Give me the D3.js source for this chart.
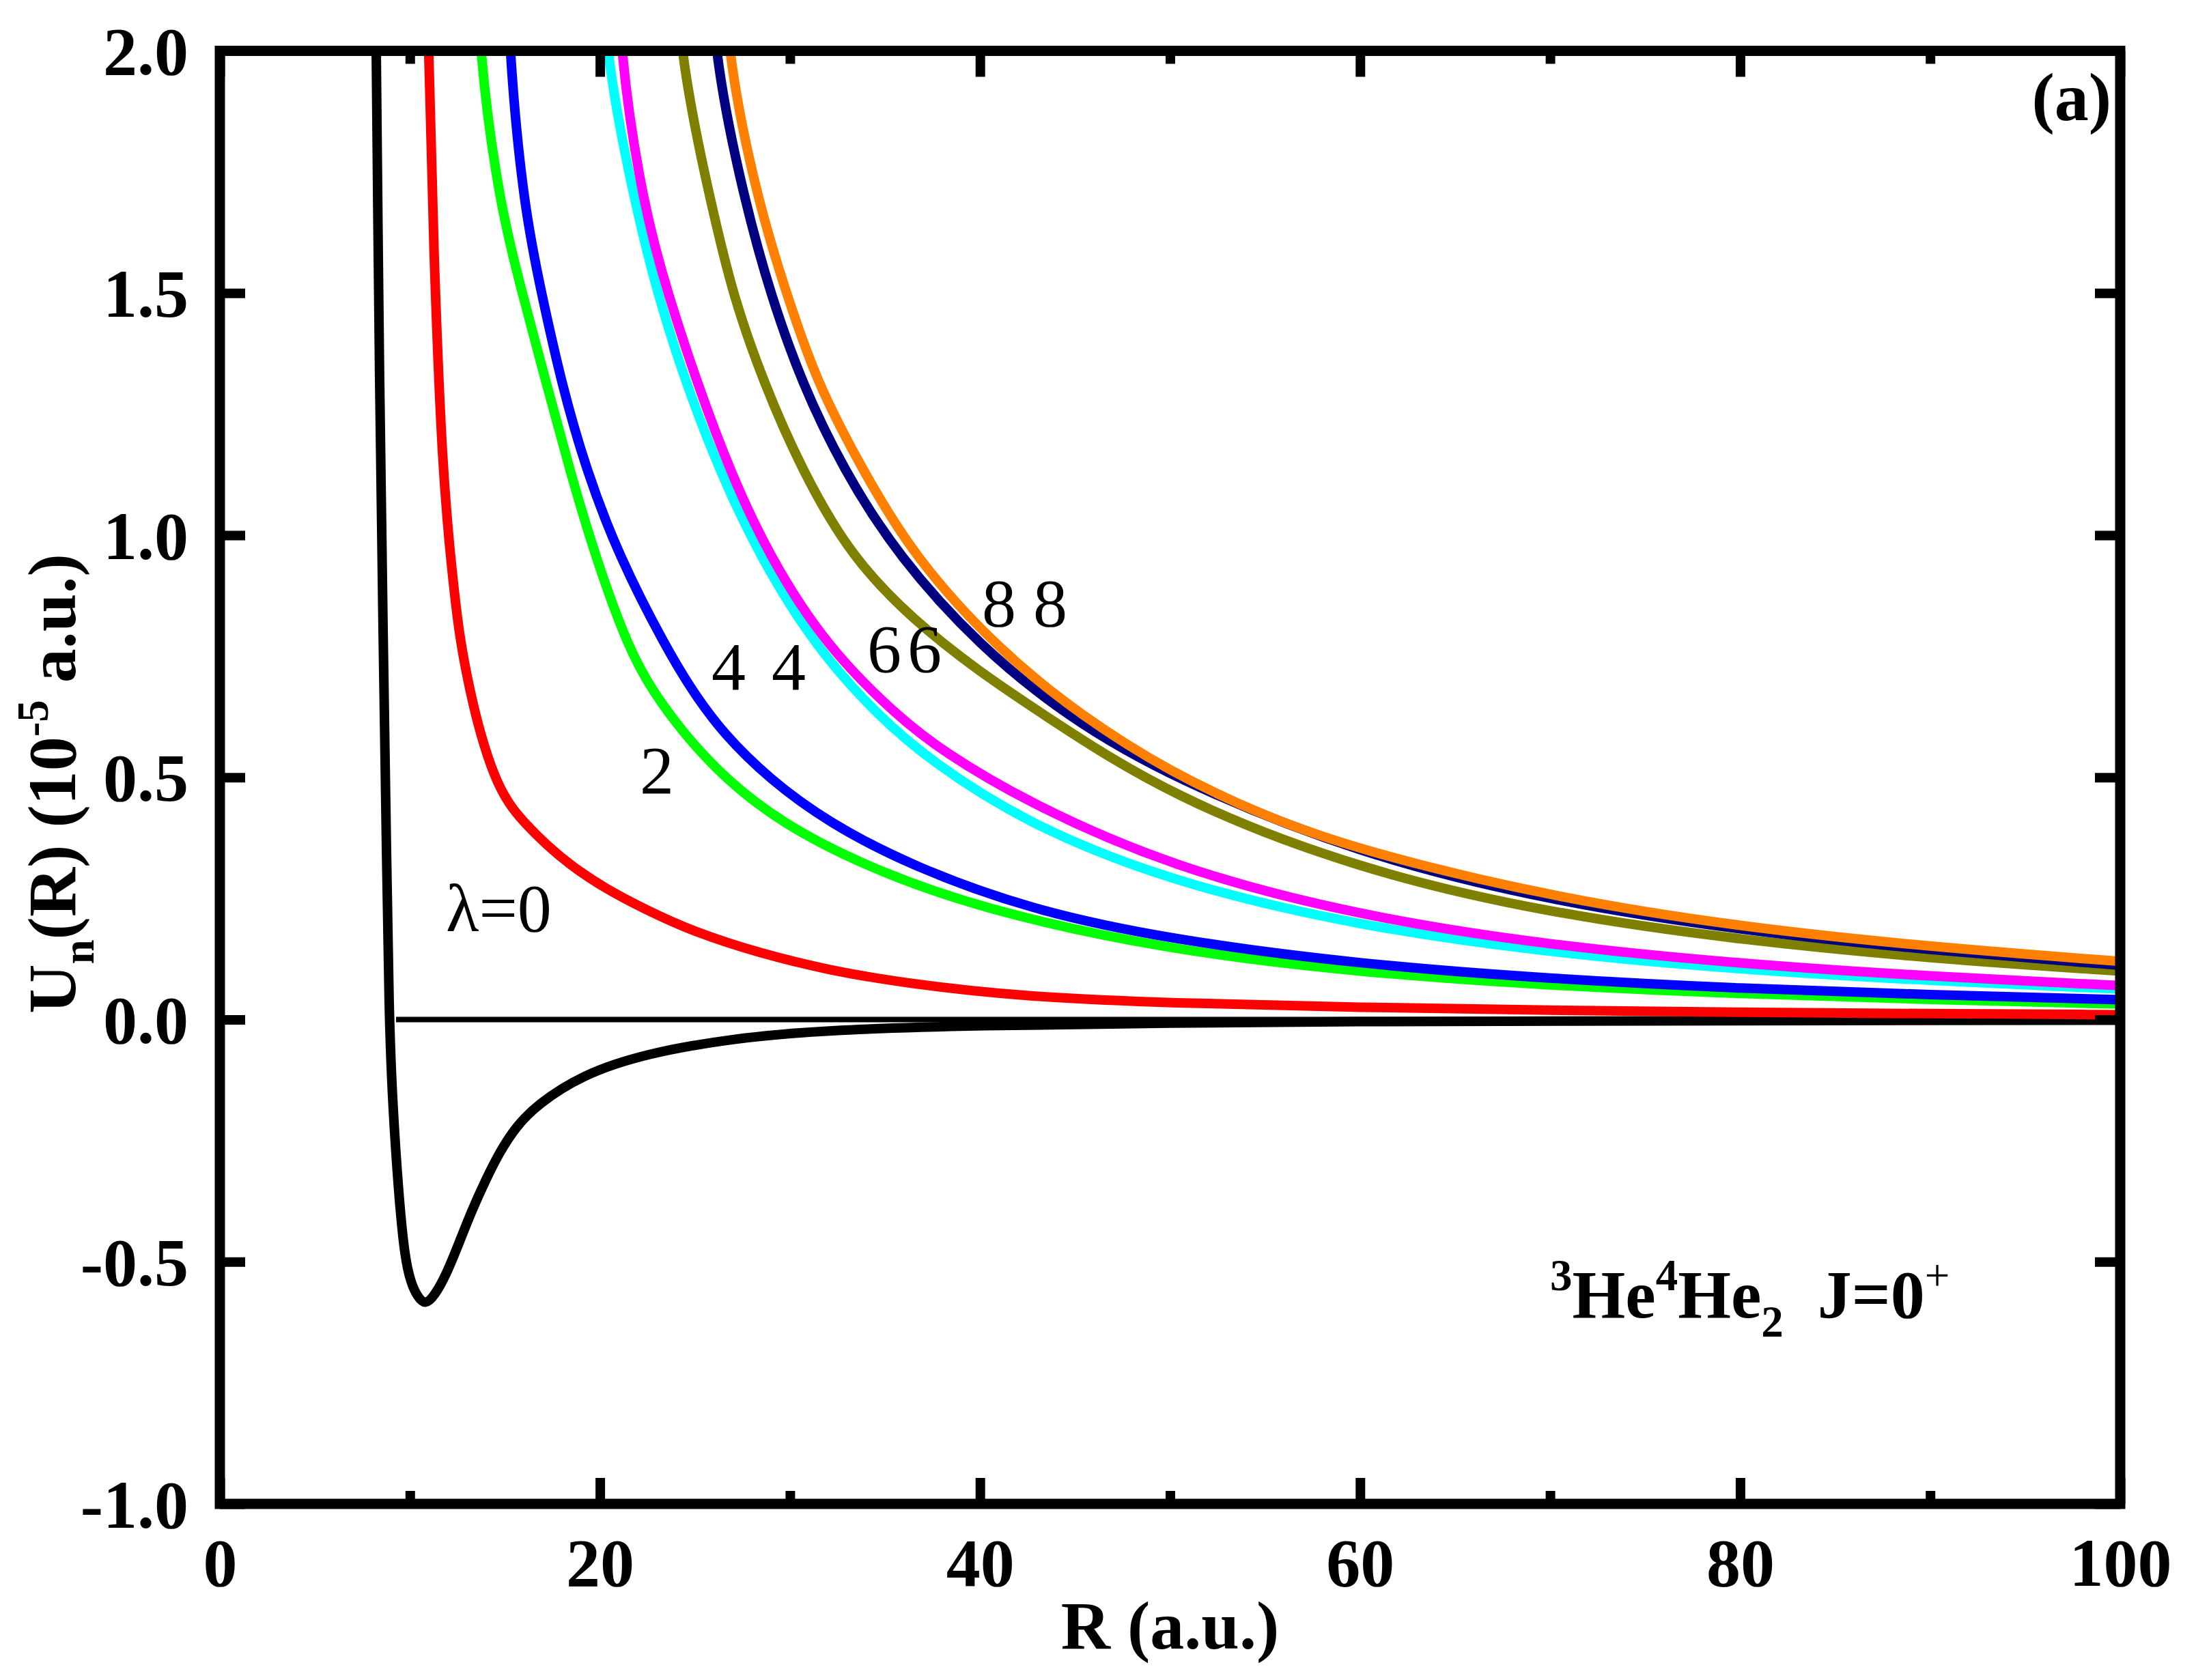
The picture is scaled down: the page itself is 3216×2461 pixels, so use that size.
<!DOCTYPE html>
<html>
<head>
<meta charset="utf-8">
<script src="https://cdn.jsdelivr.net/npm/d3@7"></script>
<style>
  html, body { margin: 0; padding: 0; background: #fff; }
  svg { display: block; }
  text { font-family: "Liberation Serif", "Times New Roman", serif; fill: #000; }
</style>
</head>
<body>
<div id="chart"></div>
<script>
// canvas and frame (px)
var W = 3216, H = 2461;
var LEFT = 322, RIGHT = 3105, TOP = 74.5, BOTTOM = 2203;
var FONT = 100;
var LINE_W = 14;

// ticks
var xMajor = [0, 20, 40, 60, 80, 100];
var xMinor = [10, 30, 50, 70, 90];
var yMajor = [-1.0, -0.5, 0.0, 0.5, 1.0, 1.5, 2.0];

// curves: R (a.u.) and U (1e-5 a.u.)
var R_black = [8.1, 8.23, 8.4, 8.6, 8.75, 8.9, 9.1, 9.4, 9.72, 10.06, 10.4, 10.8, 11.3, 11.9, 12.6, 13.26, 14.0, 14.7, 15.6, 16.7, 19.0, 22.4, 27.0, 31.6, 40, 50, 60, 70, 85, 100];
var U_black = [2.5, 2.0, 1.3, 0.77, 0.4, 0.0, -0.18, -0.357, -0.49, -0.545, -0.572, -0.59, -0.57, -0.528, -0.46, -0.394, -0.33, -0.275, -0.22, -0.176, -0.115, -0.07, -0.039, -0.022, -0.012, -0.007, -0.004, -0.003, -0.002, -0.0015];

var R_red = [10.85, 10.96, 11.25, 11.7, 12.2, 12.6, 13.15, 13.7, 14.45, 15.2, 16.0, 17.2, 18.5, 20.3, 22.4, 25.0, 28.4, 32.0, 36.2, 42.3, 50, 60, 70, 80, 90, 100];
var U_red = [2.4, 2.0, 1.585, 1.135, 0.93, 0.79, 0.68, 0.59, 0.50, 0.445, 0.407, 0.36, 0.317, 0.27, 0.227, 0.18, 0.137, 0.102, 0.074, 0.047, 0.034, 0.025, 0.019, 0.015, 0.012, 0.010];

var R_green = [13.4, 13.6, 14.75, 15.95, 17.16, 18.4, 19.75, 21.5, 22.8, 24.5, 26.6, 29.5, 33.9, 40.1, 50, 60, 70, 80, 90, 100];
var U_green = [2.3, 2.0, 1.675, 1.495, 1.316, 1.136, 0.956, 0.766, 0.676, 0.586, 0.497, 0.407, 0.317, 0.227, 0.143, 0.097, 0.070, 0.053, 0.041, 0.032];

var R_blue = [15.0, 15.2, 16.0, 16.95, 17.96, 19.26, 21.0, 23.5, 24.9, 26.5, 28.9, 32.0, 36.4, 42.6, 50, 60, 70, 80, 90, 100];
var U_blue = [2.3, 2.0, 1.675, 1.495, 1.316, 1.136, 0.956, 0.766, 0.676, 0.59, 0.497, 0.407, 0.317, 0.227, 0.165, 0.114, 0.084, 0.064, 0.051, 0.041];

var R_cyan = [20.0, 20.2, 21.9, 23.05, 24.5, 26.26, 28.4, 31.4, 34.7, 37.3, 42.3, 50, 60, 70, 80, 90, 100];
var U_cyan = [2.3, 2.0, 1.675, 1.495, 1.316, 1.136, 0.956, 0.766, 0.625, 0.537, 0.407, 0.284, 0.192, 0.138, 0.103, 0.080, 0.063];

var R_magenta = [20.8, 21.0, 22.3, 23.6, 25.1, 26.8, 28.9, 32.0, 35.7, 38.0, 42.3, 50, 60, 70, 80, 90, 100];
var U_magenta = [2.3, 2.0, 1.675, 1.495, 1.316, 1.136, 0.956, 0.766, 0.625, 0.555, 0.452, 0.315, 0.213, 0.153, 0.115, 0.089, 0.070];

var R_olive = [23.9, 24.1, 25.9, 27.0, 28.6, 30.6, 33.2, 36.5, 39.9, 43.5, 50, 60, 70, 80, 90, 100];
var U_olive = [2.3, 2.0, 1.675, 1.495, 1.316, 1.136, 0.956, 0.824, 0.72, 0.625, 0.46, 0.308, 0.219, 0.164, 0.126, 0.10];

var R_navy = [25.7, 25.9, 27.7, 29.0, 30.6, 32.8, 35.7, 40.0, 44.6, 50, 60, 70, 80, 90, 100];
var U_navy = [2.3, 2.0, 1.675, 1.495, 1.316, 1.136, 0.956, 0.77, 0.625, 0.50, 0.34, 0.245, 0.184, 0.143, 0.112];

var R_orange = [26.4, 26.6, 28.4, 29.85, 31.4, 33.8, 36.5, 41.0, 45.4, 50, 55, 60, 70, 80, 90, 100];
var U_orange = [2.3, 2.0, 1.675, 1.495, 1.316, 1.136, 0.956, 0.762, 0.625, 0.511, 0.419, 0.349, 0.253, 0.191, 0.150, 0.12];

// thin zero line
var R_zero = [9.27, 100];
var U_zero = [0, 0];

// curve labels (data coords of text start / baseline)
var labelText = ["\u03bb=0", "2", "4", "4", "6", "6", "8", "8"];
var labelR = [11.89, 22.10, 25.87, 29.03, 34.06, 36.18, 40.10, 42.80];
var labelU = [0.1825, 0.467, 0.6815, 0.6815, 0.718, 0.718, 0.8125, 0.8125];

var curves = [
    {R: R_black, U: U_black, color: "#000000"},
    {R: R_red, U: U_red, color: "#ff0000"},
    {R: R_green, U: U_green, color: "#00ff00"},
    {R: R_blue, U: U_blue, color: "#0000ff"},
    {R: R_cyan, U: U_cyan, color: "#00ffff"},
    {R: R_magenta, U: U_magenta, color: "#ff00ff"},
    {R: R_olive, U: U_olive, color: "#808000"},
    {R: R_navy, U: U_navy, color: "#000080"},
    {R: R_orange, U: U_orange, color: "#ff8000"}
];

var svg = d3.select('#chart')
    .append('svg')
    .attr('width', W)
    .attr('height', H)
    .attr('viewBox', '0 0 ' + W + ' ' + H);

svg.append('rect').attr('width', W).attr('height', H).attr('fill', '#fff');

var x = d3.scaleLinear().domain([0, 100]).range([LEFT, RIGHT]);
var y = d3.scaleLinear().domain([-1, 2]).range([BOTTOM, TOP]);

svg.append('clipPath').attr('id', 'plot-clip')
    .append('rect')
    .attr('x', LEFT).attr('y', TOP)
    .attr('width', RIGHT - LEFT).attr('height', BOTTOM - TOP);

// smoothing spline through the read points
var line = d3.line()
    .x(function(d){ return x(d[0]); })
    .y(function(d){ return y(d[1]); })
    .curve(d3.curveBasis);

var plot = svg.append('g').attr('clip-path', 'url(#plot-clip)');

plot.append('path')
    .attr('d', line(d3.zip(R_zero, U_zero)))
    .attr('fill', 'none')
    .attr('stroke', '#000')
    .attr('stroke-width', 8);

plot.selectAll('.curve')
    .data(curves)
    .enter()
    .append('path')
    .attr('class', 'curve')
    .attr('d', function(c){ return line(d3.zip(c.R, c.U)); })
    .attr('fill', 'none')
    .attr('stroke', function(c){ return c.color; })
    .attr('stroke-width', LINE_W)
    .attr('stroke-linejoin', 'round');

// curve labels
svg.append('g').selectAll('text')
    .data(d3.range(labelText.length))
    .enter()
    .append('text')
    .attr('x', function(i){ return x(labelR[i]); })
    .attr('y', function(i){ return y(labelU[i]); })
    .style('font-size', FONT + 'px')
    .text(function(i){ return labelText[i]; });

// axes: ticks point inward on all four sides
function styleAxis(g) {
    g.select('.domain').remove();
    g.selectAll('.tick line').attr('stroke', '#000').attr('stroke-width', 14);
    g.selectAll('.tick text')
        .style('font-family', '"Liberation Serif", "Times New Roman", serif')
        .style('font-weight', 'bold')
        .style('font-size', FONT + 'px')
        .attr('fill', '#000');
}

var fmtY = function(d){ return d.toFixed(1); };

svg.append('g')
    .attr('transform', 'translate(0,' + BOTTOM + ')')
    .call(d3.axisBottom(x).tickValues(xMajor).tickSize(-38).tickFormat(d3.format('d')))
    .call(styleAxis)
    .selectAll('.tick text').attr('y', 120).attr('dy', null);

svg.append('g')
    .attr('transform', 'translate(0,' + BOTTOM + ')')
    .call(d3.axisBottom(x).tickValues(xMinor).tickSize(-19).tickFormat(''))
    .call(styleAxis);

svg.append('g')
    .attr('transform', 'translate(0,' + TOP + ')')
    .call(d3.axisTop(x).tickValues(xMajor).tickSize(-38).tickFormat(''))
    .call(styleAxis);

svg.append('g')
    .attr('transform', 'translate(0,' + TOP + ')')
    .call(d3.axisTop(x).tickValues(xMinor).tickSize(-19).tickFormat(''))
    .call(styleAxis);

svg.append('g')
    .attr('transform', 'translate(' + LEFT + ',0)')
    .call(d3.axisLeft(y).tickValues(yMajor).tickSize(-37).tickFormat(fmtY))
    .call(styleAxis)
    .selectAll('.tick text').attr('x', -46).attr('dy', '0.34em');

svg.append('g')
    .attr('transform', 'translate(' + RIGHT + ',0)')
    .call(d3.axisRight(y).tickValues(yMajor).tickSize(-37).tickFormat(''))
    .call(styleAxis);

// frame
svg.append('rect')
    .attr('x', LEFT).attr('y', TOP)
    .attr('width', RIGHT - LEFT).attr('height', BOTTOM - TOP)
    .attr('fill', 'none')
    .attr('stroke', '#000')
    .attr('stroke-width', 15);

// axis titles
svg.append('text')
    .attr('x', (LEFT + RIGHT) / 2)
    .attr('y', 2415)
    .attr('text-anchor', 'middle')
    .style('font-size', FONT + 'px')
    .style('font-weight', 'bold')
    .text('R (a.u.)');

var ylab = svg.append('text')
    .attr('transform', 'translate(110,1148) rotate(-90)')
    .attr('text-anchor', 'middle')
    .style('font-size', FONT + 'px')
    .style('font-weight', 'bold')
    .style('white-space', 'pre');
ylab.append('tspan').text('U');
ylab.append('tspan').attr('dy', 27).style('font-size', '65px').text('n');
ylab.append('tspan').attr('dy', -27).text('(R) (10');
ylab.append('tspan').attr('dy', -40).style('font-size', '65px').text('-5');
ylab.append('tspan').attr('dy', 40).text(' a.u.)');

// panel tag
svg.append('text')
    .attr('x', 3092)
    .attr('y', 176)
    .attr('text-anchor', 'end')
    .style('font-size', FONT + 'px')
    .style('font-weight', 'bold')
    .text('(a)');

// system label
var sys = svg.append('text')
    .attr('x', 2270)
    .attr('y', 1930)
    .style('font-size', FONT + 'px')
    .style('font-weight', 'bold')
    .style('white-space', 'pre');
sys.append('tspan').attr('dy', -40).style('font-size', '65px').text('3');
sys.append('tspan').attr('dy', 40).text('He');
sys.append('tspan').attr('dy', -40).style('font-size', '65px').text('4');
sys.append('tspan').attr('dy', 40).text('He');
sys.append('tspan').attr('dy', 28).style('font-size', '65px').text('2');
sys.append('tspan').attr('dy', -28).text('  J=0');
sys.append('tspan').attr('dy', -40).style('font-size', '65px').style('font-weight', 'normal').text('+');
</script>
</body>
</html>
